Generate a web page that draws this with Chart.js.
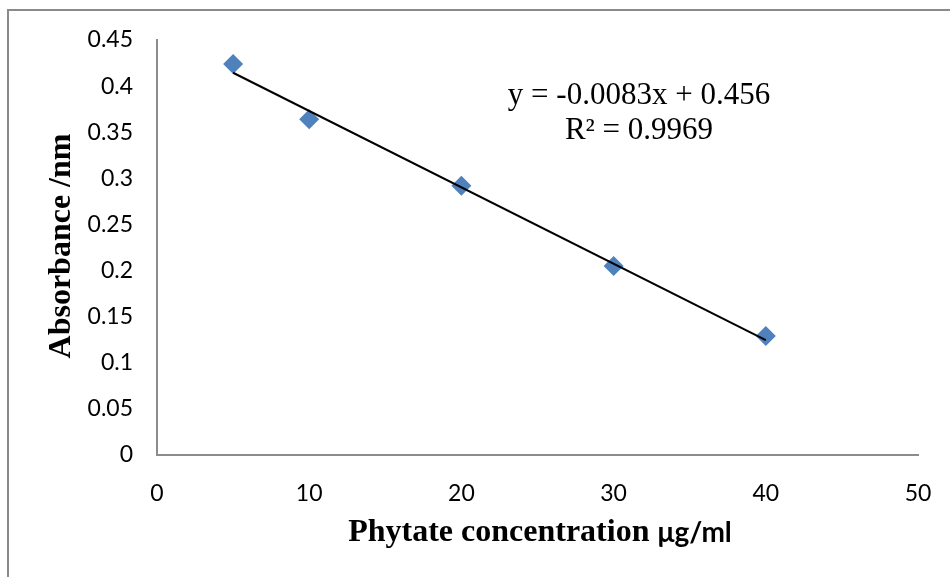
<!DOCTYPE html>
<html>
<head>
<meta charset="utf-8">
<script src="https://cdn.jsdelivr.net/npm/chart.js@4"></script>
<style>
  html, body { margin: 0; padding: 0; background: #fff; }
  #wrap { position: relative; width: 950px; height: 577px; overflow: hidden; }
  #frame { position: absolute; left: 7px; top: 9px; width: 1000px; height: 1000px; border: 2px solid #8a8a8a; }
  #chart { position: absolute; left: 0; top: 0; }
</style>
</head>
<body>
<div id="wrap">
  <div id="frame"></div>
  <canvas id="chart" width="950" height="577"></canvas>
</div>
<script>
// ---------------- DONNEES ----------------
const concentrations = [5, 10, 20, 30, 40];
const absorbances = [0.424, 0.364, 0.292, 0.205, 0.129];

// courbe de tendance (extrémités)
const trendX = [5, 40];
const trendY = [0.4145, 0.1245];

const xTickLabels = ['0', '10', '20', '30', '40', '50'];
const yTickLabels = ['0', '0.05', '0.1', '0.15', '0.2', '0.25', '0.3', '0.35', '0.4', '0.45'];

const equationLines = ['y = -0.0083x + 0.456', 'R² = 0.9969'];
const yTitle = 'Absorbance /nm';
const xTitleSerif = 'Phytate concentration ';
const xTitleSans = 'μg/ml';

// ---------------- TEXTES ----------------
const textPlugin = {
    id: 'textes',
    afterDraw(chart) {
        const ctx = chart.ctx;
        ctx.save();
        ctx.fillStyle = '#000';

        // équation
        ctx.font = '31px "Liberation Serif"';
        ctx.textAlign = 'center';
        ctx.textBaseline = 'middle';
        ctx.fillText(equationLines[0], 639, 96);
        ctx.fillText(equationLines[1], 639, 131);

        // titre axe Y
        ctx.save();
        ctx.translate(62, 246);
        ctx.rotate(-Math.PI / 2);
        ctx.font = 'bold 32px "Liberation Serif"';
        ctx.fillText(yTitle, 0, 0);
        ctx.restore();

        // titre axe X (deux polices)
        ctx.textAlign = 'left';
        ctx.font = 'bold 32px "Liberation Serif"';
        const w1 = ctx.measureText(xTitleSerif).width;
        ctx.font = 'bold 28px "Lato"';
        const w2 = ctx.measureText(xTitleSans).width;
        const x0 = 540 - (w1 + w2) / 2;
        ctx.font = 'bold 32px "Liberation Serif"';
        ctx.fillText(xTitleSerif, x0, 533);
        ctx.font = 'bold 28px "Lato"';
        ctx.fillText(xTitleSans, x0 + w1, 533);
        ctx.restore();
    }
};

// ---------------- GRAPHIQUE ----------------
const ctx = document.getElementById('chart');
new Chart(ctx, {
    type: 'scatter',
    data: {
        datasets: [{
            label: 'Absorbance',
            data: concentrations.map((x, i) => ({ x: x, y: absorbances[i] })),
            pointStyle: 'rectRot',
            pointRadius: 10,
            pointHoverRadius: 10,
            backgroundColor: '#4F81BD',
            borderColor: '#4F81BD',
            borderWidth: 0,
            order: 2
        }, {
            label: 'Tendance',
            type: 'line',
            data: trendX.map((x, i) => ({ x: x, y: trendY[i] })),
            borderColor: '#000',
            borderWidth: 2,
            pointRadius: 0,
            fill: false,
            order: 1
        }]
    },
    options: {
        responsive: false,
        animation: false,
        layout: { padding: { left: 0, top: 40, right: 32, bottom: 0 } },
        plugins: {
            legend: { display: false },
            tooltip: { enabled: false }
        },
        scales: {
            x: {
                type: 'linear',
                min: 0,
                max: 50,
                grid: { display: false, drawTicks: false, tickLength: 0 },
                border: { display: true, color: '#8c8c8c', width: 2 },
                ticks: {
                    stepSize: 10,
                    padding: 25,
                    color: '#000',
                    font: { family: 'Lato', size: 23 },
                    callback: (v, i) => xTickLabels[i]
                },
                afterFit: (scale) => {
                    scale.height = 122;
                    scale.paddingLeft = 0;
                    scale.paddingRight = 0;
                }
            },
            y: {
                type: 'linear',
                min: 0,
                max: 0.45,
                grid: { display: false, drawTicks: false, tickLength: 0 },
                border: { display: true, color: '#8c8c8c', width: 2 },
                ticks: {
                    stepSize: 0.05,
                    padding: 24,
                    color: '#000',
                    font: { family: 'Lato', size: 23 },
                    callback: (v, i) => yTickLabels[i]
                },
                afterFit: (scale) => {
                    scale.width = 157;
                    scale.paddingTop = 0;
                    scale.paddingBottom = 0;
                }
            }
        }
    },
    plugins: [textPlugin]
});
</script>
</body>
</html>
